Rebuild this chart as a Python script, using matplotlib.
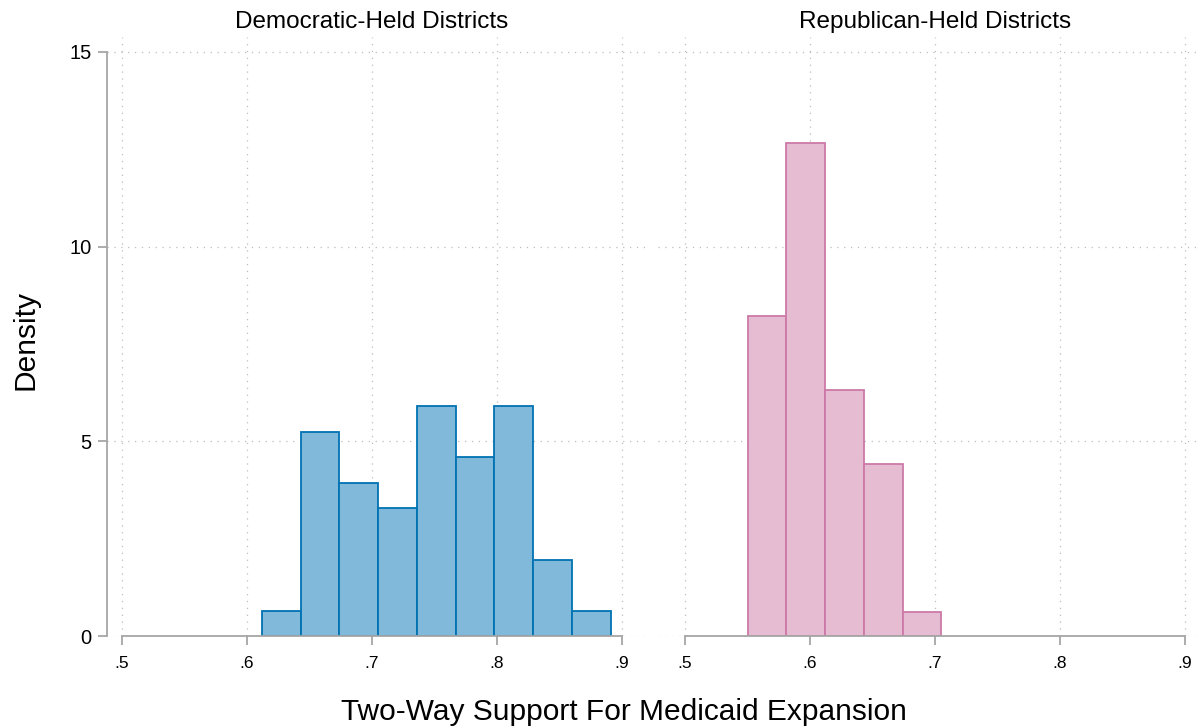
import numpy as np
import matplotlib
matplotlib.use("Agg")
import matplotlib.pyplot as plt
from matplotlib.colors import to_rgb

plt.rcParams['font.family'] = ['Liberation Sans', 'DejaVu Sans']

# ---- data ----
panel_titles = ["Democratic-Held Districts", "Republican-Held Districts"]
dem_edges = [0.612, 0.643, 0.674, 0.705, 0.736, 0.767, 0.798, 0.829, 0.860, 0.891]
dem_density = [0.64, 5.24, 3.93, 3.28, 5.91, 4.59, 5.91, 1.96, 0.64]
rep_edges = [0.550, 0.581, 0.612, 0.643, 0.674, 0.705]
rep_density = [8.23, 12.67, 6.33, 4.43, 0.62]
x_ticks = [0.5, 0.6, 0.7, 0.8, 0.9]
x_ticklabels = [".5", ".6", ".7", ".8", ".9"]
y_ticks = [0, 5, 10, 15]
y_ticklabels = ["0", "5", "10", "15"]
x_label = "Two-Way Support For Medicaid Expansion"
y_label = "Density"

dem_color = "#0072B2"
rep_color = "#CC79A7"

def lighten(c, a=0.5):
    r, g, b = to_rgb(c)
    return (1 - a + a * r, 1 - a + a * g, 1 - a + a * b)

W, H = 1196, 728
fig = plt.figure(figsize=(W / 100, H / 100), dpi=100)
fig.patch.set_facecolor("white")

def px_rect(x0, x1, ytop, ybot):
    return [x0 / W, (H - ybot) / H, (x1 - x0) / W, (ybot - ytop) / H]

ax1 = fig.add_axes(px_rect(107, 645, 37, 636))
ax2 = fig.add_axes(px_rect(658, 1196, 37, 636))

grid_kw = dict(color="#bdbdbd", linewidth=0.9, linestyle=(0, (1, 4.5)))
spine_color = "#a6a6a6"

for ax, edges, dens, col, xlim in [
    (ax1, dem_edges, dem_density, dem_color, (0.488, 0.9184)),
    (ax2, rep_edges, rep_density, rep_color, (0.4784, 0.9088)),
]:
    e = np.array(edges)
    ax.set_axisbelow(True)
    ax.bar(e[:-1], dens, width=np.diff(e), align="edge",
           facecolor=lighten(col), edgecolor=col, linewidth=1.3, zorder=3)
    ax.set_xlim(*xlim)
    ax.set_ylim(0, 15.385)
    ax.set_xticks(x_ticks)
    ax.set_xticklabels(x_ticklabels)
    ax.set_yticks(y_ticks)
    ax.grid(True, **grid_kw)
    for s in ["top", "right"]:
        ax.spines[s].set_visible(False)
    ax.spines["bottom"].set_bounds(0.5, 0.9)
    ax.spines["bottom"].set_color(spine_color)
    ax.spines["bottom"].set_linewidth(1.3)
    ax.spines["bottom"].set_zorder(4)
    ax.tick_params(axis="x", length=6.5, width=1.3, color=spine_color,
                   labelsize=12.5, pad=8, labelcolor="black")
    ax.tick_params(axis="y", length=6.7, width=1.3, color=spine_color,
                   labelsize=14.5, pad=4.3, labelcolor="black")

ax1.set_yticklabels(y_ticklabels)
ax1.spines["left"].set_bounds(0, 15)
ax1.spines["left"].set_color(spine_color)
ax1.spines["left"].set_linewidth(1.3)
ax1.spines["left"].set_position(("data", 0.488))

ax2.spines["left"].set_visible(False)
ax2.tick_params(axis="y", left=False, labelleft=False)

# panel titles centered over .5-.9
fig.text(372 / W, (H - 28) / H, panel_titles[0], ha="center", va="baseline", fontsize=17.5)
fig.text(935 / W, (H - 28) / H, panel_titles[1], ha="center", va="baseline", fontsize=17.5)

# axis titles
fig.text(624 / W, (H - 720) / H, x_label, ha="center", va="baseline", fontsize=21.5)
fig.text(33 / W, (H - 340) / H, y_label, ha="center", va="baseline", rotation=90,
         rotation_mode="anchor", fontsize=21.5)

fig.savefig("out.png", dpi=100, facecolor="white")
